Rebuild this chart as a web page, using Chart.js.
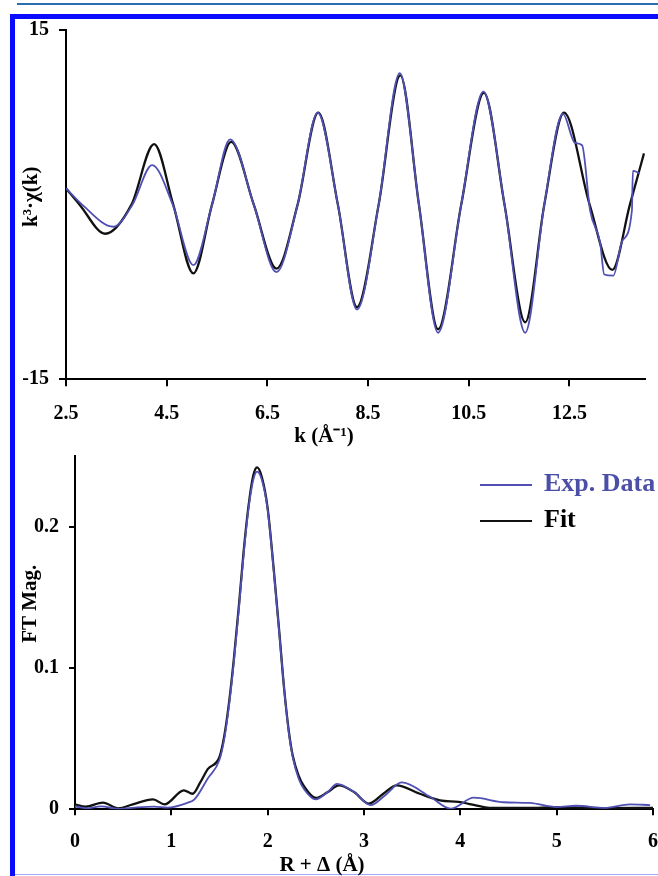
<!DOCTYPE html>
<html>
<head>
<meta charset="utf-8">
<script src="https://cdn.jsdelivr.net/npm/chart.js@4.4.1/dist/chart.umd.min.js"></script>
<style>
body { margin: 0; background: #fff; }
#page { position: relative; width: 658px; height: 876px; overflow: hidden; background: #fff; }
.rule { position: absolute; }
canvas { position: absolute; left: 0; }
</style>
</head>
<body>
<div id="page">
    <div class="rule" style="left:17px;top:3px;width:641px;height:2px;background:#2c6cb0"></div>
    <div class="rule" style="left:10px;top:14px;width:648px;height:5px;background:#0a0aff"></div>
    <div class="rule" style="left:10px;top:14px;width:5px;height:862px;background:#0a0aff"></div>
    <div class="rule" style="left:15px;top:874px;width:643px;height:1px;background:#a3a8ff"></div>
    <canvas id="chiChart" width="658" height="446" style="top:8px"></canvas>
    <canvas id="ftChart" width="673" height="444" style="top:434px"></canvas>
</div>
<script>
// k-space, k^3 chi(k)
const kFit = [2.5, 2.77, 3.28, 3.8, 4.25, 4.63, 5.03, 5.4, 5.78, 6.23, 6.68, 7.1, 7.51, 7.9, 8.28, 8.71, 9.14, 9.51, 9.89, 10.35, 10.8, 11.21, 11.62, 12.0, 12.39, 12.9, 13.35, 13.7, 13.98];
const chiFit = [1.4, 0, -2.5, 0, 5.2, 0, -5.9, 0, 5.4, 0, -5.5, 0, 7.9, 0, -8.8, 0, 11.1, 0, -10.7, 0, 9.6, 0, -10.1, 0, 7.9, 0, -5.6, 0, 4.4];

const kExp = [2.5, 2.82, 3.44, 3.82, 4.21, 4.62, 5.03, 5.4, 5.76, 6.23, 6.68, 7.1, 7.5, 7.9, 8.28, 8.71, 9.13, 9.51, 9.89, 10.35, 10.79, 11.21, 11.62, 12.0, 12.37, 12.61, 12.75, 12.91, 13.11, 13.19, 13.37, 13.55, 13.74, 13.76, 13.89];
const chiExp = [1.4, 0, -1.9, 0, 3.4, 0, -5.2, 0, 5.6, 0, -5.8, 0, 7.9, 0, -9.0, 0, 11.3, 0, -11.0, 0, 9.7, 0, -11.0, 0, 7.8, 5.3, 5.1, -0.5, -3.3, -6.0, -6.1, -3.1, -0.5, 2.9, 2.7];

const kTicks = [2.5, 4.5, 6.5, 8.5, 10.5, 12.5];
const chiTicks = [-15, 15];

// R-space, FT magnitude
const rFit = [0, 0.11, 0.29, 0.45, 0.6, 0.81, 0.93, 1.13, 1.22, 1.3, 1.38, 1.5, 1.55, 1.6, 1.65, 1.7, 1.75, 1.8, 1.85, 1.89, 1.94, 2.0, 2.06, 2.12, 2.17, 2.22, 2.26, 2.32, 2.38, 2.5, 2.62, 2.74, 2.9, 3.05, 3.2, 3.34, 3.58, 3.79, 3.98, 4.15, 4.3, 4.7, 5.0, 5.5, 6.0];
const ftFit = [0.0035, 0.0018, 0.0047, 0.0007, 0.0035, 0.007, 0.0035, 0.0134, 0.011, 0.019, 0.0286, 0.037, 0.052, 0.076, 0.107, 0.143, 0.182, 0.214, 0.236, 0.242, 0.235, 0.213, 0.172, 0.126, 0.086, 0.055, 0.038, 0.024, 0.016, 0.008, 0.012, 0.017, 0.012, 0.004, 0.011, 0.017, 0.011, 0.0064, 0.0052, 0.003, 0.001, 0.001, 0.0015, 0.0008, 0.001];

const rExp = [0, 0.12, 0.27, 0.46, 0.62, 0.82, 0.96, 1.17, 1.24, 1.38, 1.5, 1.55, 1.6, 1.65, 1.7, 1.75, 1.8, 1.85, 1.89, 1.94, 2.0, 2.06, 2.12, 2.17, 2.22, 2.26, 2.32, 2.38, 2.5, 2.62, 2.72, 2.9, 3.07, 3.22, 3.39, 3.69, 3.9, 4.14, 4.45, 4.72, 5.0, 5.2, 5.5, 5.76, 5.97];
const ftExp = [0.002, 0.0007, 0.002, 0.0002, 0.0012, 0.0019, 0.0012, 0.0047, 0.007, 0.022, 0.035, 0.05, 0.074, 0.105, 0.141, 0.18, 0.212, 0.233, 0.239, 0.233, 0.212, 0.171, 0.125, 0.086, 0.054, 0.037, 0.022, 0.014, 0.007, 0.012, 0.018, 0.012, 0.003, 0.01, 0.019, 0.0087, 0.0005, 0.0082, 0.005, 0.0045, 0.0016, 0.0025, 0.001, 0.0035, 0.003];

const rTicks = [0, 1, 2, 3, 4, 5, 6];
const ftTicks = [0, 0.1, 0.2];

const seriesLabels = ['Exp. Data', 'Fit'];
const expColor = '#5050b4';
const fitColor = '#111111';

Chart.defaults.font.family = '"Liberation Serif", "Times New Roman", serif';
Chart.defaults.font.weight = 'bold';
Chart.defaults.color = '#000';

function toPoints(xs, ys) {
    return xs.map((x, i) => ({ x: x, y: ys[i] }));
}

function lineSet(label, xs, ys, color, width) {
    return {
        label: label,
        data: toPoints(xs, ys),
        borderColor: color,
        borderWidth: width,
        pointRadius: 0,
        fill: false,
        cubicInterpolationMode: 'monotone'
    };
}

function axis(opts) {
    return {
        type: 'linear',
        min: opts.min,
        max: opts.max,
        afterBuildTicks: (scale) => { scale.ticks = opts.ticks.map(v => ({ value: v })); },
        afterFit: opts.fit,
        grid: { drawOnChartArea: false, drawTicks: true, tickLength: opts.tickLength || 7, color: '#000', lineWidth: 2 },
        border: { color: '#000', width: 2 },
        ticks: { font: { size: 20, weight: 'bold' }, padding: opts.padding, callback: opts.format, maxRotation: 0, autoSkip: false },
        title: { display: true, text: opts.title, font: { size: 21, weight: 'bold' }, padding: opts.titlePad || 0 }
    };
}

// legend drawn inside the plot area, upper right
const insideLegend = {
    id: 'insideLegend',
    afterDatasetsDraw(chart, args, opts) {
        if (!opts.show) return;
        const { ctx, chartArea } = chart;
        ctx.save();
        ctx.font = 'bold 26px "Liberation Serif"';
        ctx.textBaseline = 'middle';
        ctx.textAlign = 'left';
        chart.data.datasets.forEach((ds, i) => {
            const y = chartArea.top + 29 + i * 36;
            const x = chartArea.right - 173;
            ctx.strokeStyle = ds.borderColor;
            ctx.lineWidth = 2;
            ctx.beginPath();
            ctx.moveTo(x, y);
            ctx.lineTo(x + 52, y);
            ctx.stroke();
            ctx.fillStyle = i === 0 ? '#4b4fa8' : '#000';
            ctx.fillText(ds.label, x + 64, y - 1);
        });
        ctx.restore();
    }
};

new Chart(document.getElementById('chiChart'), {
    type: 'line',
    data: {
        datasets: [
            lineSet(seriesLabels[0], kExp, chiExp, expColor, 1.8),
            lineSet(seriesLabels[1], kFit, chiFit, fitColor, 2.3)
        ]
    },
    options: {
        responsive: false,
        animation: false,
        layout: { padding: { left: 0, top: 0, right: 13, bottom: 5 } },
        plugins: { legend: { display: false }, tooltip: { enabled: false }, insideLegend: { show: false } },
        scales: {
            x: axis({ min: 2.5, max: 14.0, ticks: kTicks, padding: 16, title: 'k (\u00C5\u207B\u00B9)            ',
                format: v => v.toFixed(1), fit: s => { s.height = 69.7; } }),
            y: axis({ min: -15, max: 15, ticks: chiTicks, padding: 10, title: '   k\u00B3\u00B7\u03C7(k)', titlePad: 19,
                format: v => String(v), fit: s => { s.width = 66; } })
        }
    },
    plugins: [insideLegend]
});

new Chart(document.getElementById('ftChart'), {
    type: 'line',
    data: {
        datasets: [
            lineSet(seriesLabels[0], rExp, ftExp, expColor, 1.8),
            lineSet(seriesLabels[1], rFit, ftFit, fitColor, 2.3)
        ]
    },
    options: {
        responsive: false,
        animation: false,
        layout: { padding: { left: 0, top: 0, right: 5, bottom: 0 } },
        plugins: { legend: { display: false }, tooltip: { enabled: false }, insideLegend: { show: true } },
        scales: {
            x: axis({ min: 0, max: 6, ticks: rTicks, padding: 15, tickLength: 6, title: 'R + \u0394 (\u00C5)                ',
                format: v => String(v), fit: s => { s.height = 68.7; } }),
            y: axis({ min: 0, max: 0.25, ticks: ftTicks, padding: 10, tickLength: 6, title: '           FT Mag.', titlePad: 18,
                format: v => v === 0 ? '0' : v.toFixed(1), fit: s => { s.width = 75; } })
        }
    },
    plugins: [insideLegend]
});
</script>
</body>
</html>
